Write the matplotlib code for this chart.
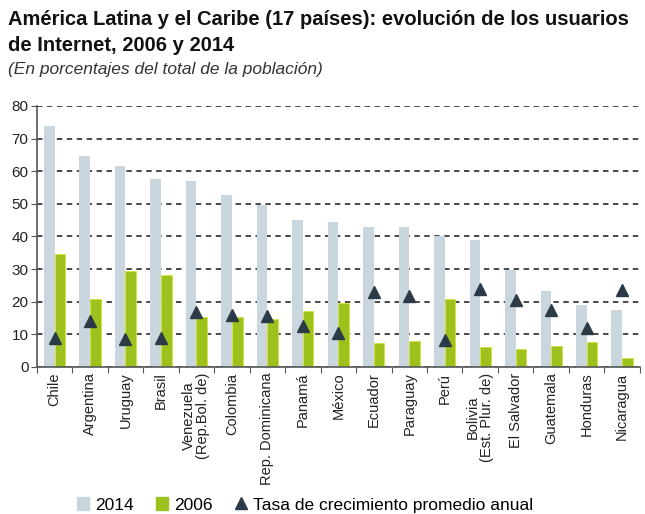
import matplotlib
import matplotlib.pyplot as plt
import numpy as np
from matplotlib.lines import Line2D
from matplotlib.patches import Patch

matplotlib.rcParams["font.family"] = ["Liberation Sans", "DejaVu Sans"]

countries = [
    "Chile", "Argentina", "Uruguay", "Brasil", "Venezuela\n(Rep.Bol. de)",
    "Colombia", "Rep. Dominicana", "Panamá", "México", "Ecuador", "Paraguay",
    "Perú", "Bolivia\n(Est. Plur. de)", "El Salvador", "Guatemala", "Honduras",
    "Nicaragua",
]
users_2014 = [73.8, 64.7, 61.5, 57.6, 57.0, 52.6, 49.6, 44.9, 44.4, 43.0, 43.0,
              40.2, 39.0, 29.7, 23.4, 19.1, 17.6]
users_2006 = [34.5, 20.9, 29.4, 28.2, 15.2, 15.3, 14.8, 17.3, 19.5, 7.2, 7.9,
              20.7, 6.2, 5.5, 6.5, 7.8, 2.8]
growth_rate = [9.0, 14.0, 8.5, 8.8, 17.0, 16.0, 15.5, 12.7, 10.4, 23.0, 21.9,
               8.4, 23.9, 20.6, 17.5, 11.8, 23.6]

gray = "#c9d6dd"
green = "#9dc21e"
dark = "#2a3a46"

fig = plt.figure(figsize=(6.45, 5.14), dpi=100)
ax = fig.add_axes([0.057, 0.286, 0.935, 0.508])

x = np.arange(len(countries))
w = 0.3
ax.bar(x - w / 2, users_2014, width=w, color=gray, zorder=2)
ax.bar(x + w / 2, users_2006, width=w, color=green, edgecolor="#d8e03a", linewidth=0.6, zorder=2)
ax.plot(x, growth_rate, linestyle="none", marker="^", markersize=8, color=dark, zorder=3)

ax.set_xlim(-0.5, len(countries) - 0.5)
ax.set_ylim(0, 80)
ax.set_yticks(range(0, 81, 10))
ax.yaxis.grid(True, linestyle=(0, (3, 2.5)), color="#3a3a3a", linewidth=1.3, zorder=1)
ax.set_axisbelow(True)

ax.set_xticks(np.arange(-0.5, len(countries), 1), minor=False)
ax.set_xticklabels([])
ax.set_xticks(x, minor=True)
ax.set_xticklabels(countries, minor=True, rotation=90, fontsize=10.5, va="top", ha="center",
                   color="#222222", linespacing=1.0)
ax.tick_params(axis="x", which="minor", length=0, pad=4)
ax.tick_params(axis="x", which="major", length=4, direction="out", color="#555555")
ax.tick_params(axis="y", length=4, color="#555555", labelsize=11, labelcolor="#222222", pad=2)

for s in ["top", "right"]:
    ax.spines[s].set_visible(False)
for s in ["left", "bottom"]:
    ax.spines[s].set_color("#555555")
    ax.spines[s].set_linewidth(1.2)

fig.text(0.012, 0.962, "América Latina y el Caribe (17 países): evolución de los usuarios",
         fontsize=14.5, fontweight="bold", ha="left", va="center", color="#111111")
fig.text(0.012, 0.912, "de Internet, 2006 y 2014",
         fontsize=14.5, fontweight="bold", ha="left", va="center", color="#111111")
fig.text(0.012, 0.864, "(En porcentajes del total de la población)",
         fontsize=12.5, style="italic", ha="left", va="center", color="#333333")

handles = [
    Patch(color=gray, label="2014"),
    Patch(color=green, label="2006"),
    Line2D([], [], linestyle="none", marker="^", markersize=8, color=dark,
           label="Tasa de crecimiento promedio anual"),
]
fig.legend(handles=handles, loc="center", bbox_to_anchor=(0.473, 0.018), ncol=3,
           frameon=False, fontsize=12.5, handlelength=0.7, handleheight=0.8,
           handletextpad=0.35, columnspacing=1.3)

fig.savefig("out.png", dpi=100)
